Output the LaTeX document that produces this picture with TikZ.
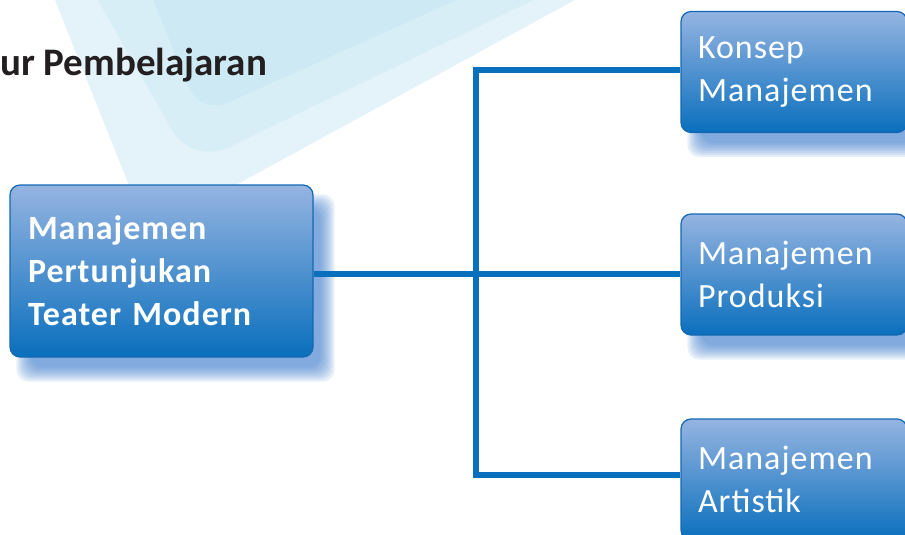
\documentclass[tikz,border=0pt]{standalone}
\usepackage{fontspec}
\usepackage{xcolor}
\usetikzlibrary{calc,backgrounds}
\newfontfamily\boxfont[LetterSpace=3]{Carlito}
\newfontfamily\headfont{Carlito}
\definecolor{mapline}{HTML}{0A6FBD}
\definecolor{boxtop}{HTML}{95B4E1}
\definecolor{boxbottom}{HTML}{0A6FBD}
\definecolor{boxedge}{HTML}{1368B3}
\definecolor{boxshade}{HTML}{3D7BCB}
\definecolor{bgouter}{HTML}{E4F3F9}
\definecolor{bgmid}{HTML}{D7EEF6}
\definecolor{bginner}{HTML}{CCE9F4}
\definecolor{headtext}{HTML}{231F20}

\begin{document}
\begin{tikzpicture}[
    x=1pt, y=-1pt,
    mapbox/.style={rectangle, rounded corners=10pt, draw=boxedge, line width=1.2pt,
      top color=boxtop, bottom color=boxbottom, text=white, align=left,
      inner ysep=0pt},
    mainbox/.style={mapbox, minimum width=303pt, minimum height=172pt,
      inner xsep=18pt, text width=267pt,
      font=\boxfont\bfseries\fontsize{34}{43}\selectfont},
    subbox/.style={mapbox, minimum width=226pt, minimum height=121pt,
      inner xsep=17pt, text width=192pt,
      font=\boxfont\fontsize{34}{43}\selectfont},
    wire/.style={draw=mapline, line width=6pt},
    headlbl/.style={font=\headfont\bfseries\fontsize{39}{42}\selectfont, text=headtext},
  ]

  \useasboundingbox (0,0) rectangle (905,535);
  \clip (0,0) rectangle (905,535);

  % ---- heading, cut off at the left edge
  \node[headlbl, anchor=base west, inner sep=0pt] (title) at (0,76) {ur Pembelajaran};

  % ---- the topic and its three parts
  \node[mainbox] (main) at (161.5,271) {Manajemen\\Pertunjukan\\Teater Modern};
  \foreach \i/\y/\txt in {%
      1/72/{Konsep\\Manajemen},
      2/274.5/{Manajemen\\Produksi},
      3/479.5/{Manajemen\\Artistik}} {
    \node[subbox] (k\i) at (794,\y) {\txt};
  }

  % ---- branch lines
  \coordinate (jt) at (476,70);
  \coordinate (jn) at (476,274);
  \coordinate (jb) at (476,475);
  \draw[wire] (main.east |- jn) -- (k2.west |- jn);
  \draw[wire] (k1.west |- jt) -- (jt) -- (jb) -- (k3.west |- jb);

  % ---- pale wedge and soft shadows behind everything
  \begin{scope}[on background layer]
    \clip (0,0) rectangle (905,535);
    \fill[bgouter] (39,-40) -- (148,233) -- (648,-40) -- cycle;
    \fill[bgmid, rounded corners=40pt] (75,-40) -- (192,165) -- (616,-40) -- cycle;
    \fill[bginner, rounded corners=30pt] (137,-40) -- (200,115) -- (546,-40) -- cycle;
    \foreach \n in {main,k1,k2,k3}
      \foreach \g in {7,5,...,-7}
        \fill[boxshade, fill opacity=0.12, rounded corners=12pt]
          ($(\n.north west)+({14-\g},{17-\g})$) rectangle ($(\n.south east)+({14+\g},{17+\g})$);
  \end{scope}

\end{tikzpicture}
\end{document}
